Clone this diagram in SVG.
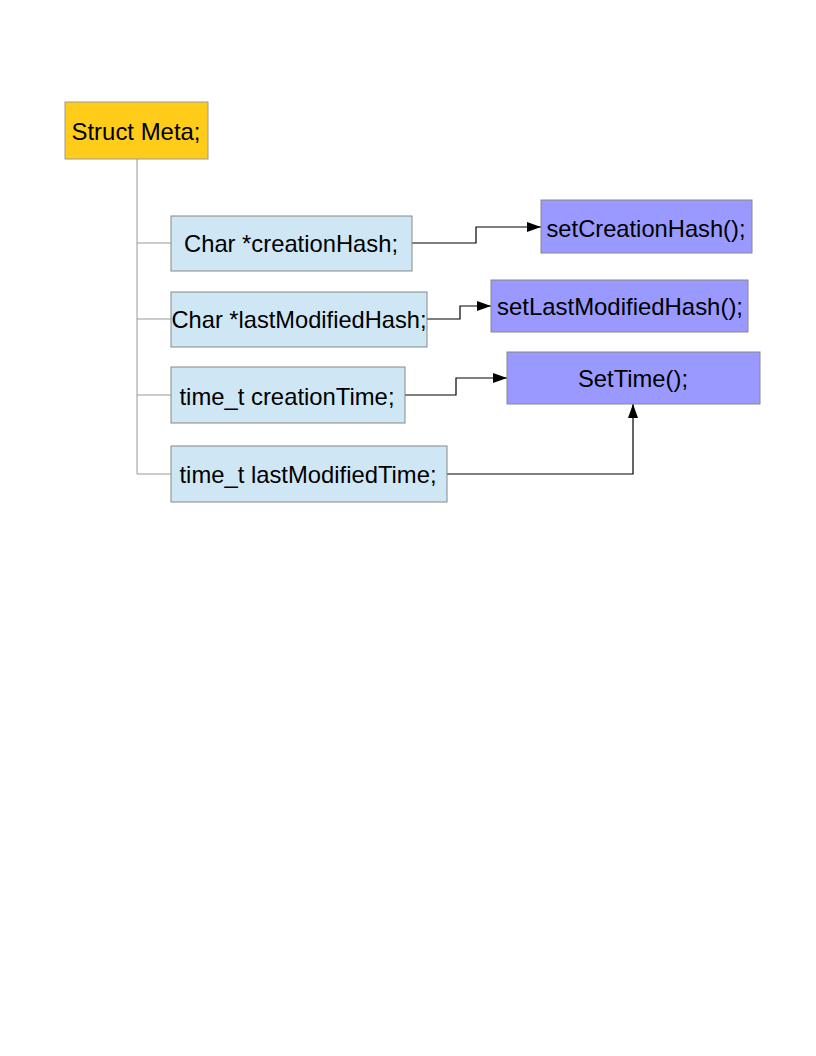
<svg xmlns="http://www.w3.org/2000/svg" width="816" height="1056" viewBox="0 0 816 1056">
<style>
text{font-family:"Liberation Sans",Arial,sans-serif;font-size:24px;fill:#000}
.root{fill:#ffcc1a;stroke:#999;stroke-width:1}
.field{fill:#cfe7f5;stroke:#888;stroke-width:1}
.func{fill:#9999ff;stroke:#888;stroke-width:1}
.tree{fill:none;stroke:#999;stroke-width:1}
.arr{fill:none;stroke:#000;stroke-width:1.2}
</style>
<defs>
<marker id="ah" viewBox="0 0 14 10" refX="14" refY="5" markerWidth="14" markerHeight="10" markerUnits="userSpaceOnUse" orient="auto">
<path d="M0,0 L14,5 L0,10 Z" fill="#000"/>
</marker>
</defs>
<rect width="816" height="1056" fill="#fff"/>
<g id="connectors">
<path class="tree" d="M137,159 V474 M137,243 H171 M137,319 H171 M137,395 H171 M137,474 H171"/>
<path class="arr" d="M412,243 H476 V227 H541" marker-end="url(#ah)"/>
<path class="arr" d="M427,319 H460 V306 H491" marker-end="url(#ah)"/>
<path class="arr" d="M405,395 H456 V378 H507" marker-end="url(#ah)"/>
<path class="arr" d="M447,474 H633 V404" marker-end="url(#ah)"/>
</g>
<g id="struct-meta">
<rect class="root" x="65" y="102" width="143" height="57"/>
<text x="136" y="140" text-anchor="middle" textLength="129" lengthAdjust="spacingAndGlyphs">Struct Meta;</text>
</g>
<g id="creation-hash">
<rect class="field" x="171" y="216" width="241" height="55"/>
<text x="291" y="252" text-anchor="middle" textLength="214" lengthAdjust="spacingAndGlyphs">Char *creationHash;</text>
</g>
<g id="last-modified-hash">
<rect class="field" x="171" y="292" width="256" height="55"/>
<text x="299" y="328" text-anchor="middle" textLength="255" lengthAdjust="spacingAndGlyphs">Char *lastModifiedHash;</text>
</g>
<g id="creation-time">
<rect class="field" x="171" y="367" width="234" height="56"/>
<text x="287" y="405" text-anchor="middle" textLength="215" lengthAdjust="spacingAndGlyphs">time_t creationTime;</text>
</g>
<g id="last-modified-time">
<rect class="field" x="171" y="446" width="276" height="56"/>
<text x="308" y="483" text-anchor="middle" textLength="257" lengthAdjust="spacingAndGlyphs">time_t lastModifiedTime;</text>
</g>
<g id="set-creation-hash">
<rect class="func" x="541" y="200" width="211" height="53"/>
<text x="646" y="237" text-anchor="middle" textLength="199" lengthAdjust="spacingAndGlyphs">setCreationHash();</text>
</g>
<g id="set-last-modified-hash">
<rect class="func" x="491" y="280" width="257" height="52"/>
<text x="620" y="315" text-anchor="middle" textLength="246" lengthAdjust="spacingAndGlyphs">setLastModifiedHash();</text>
</g>
<g id="set-time">
<rect class="func" x="507" y="352" width="253" height="52"/>
<text x="633" y="387" text-anchor="middle" textLength="110" lengthAdjust="spacingAndGlyphs">SetTime();</text>
</g>
</svg>
